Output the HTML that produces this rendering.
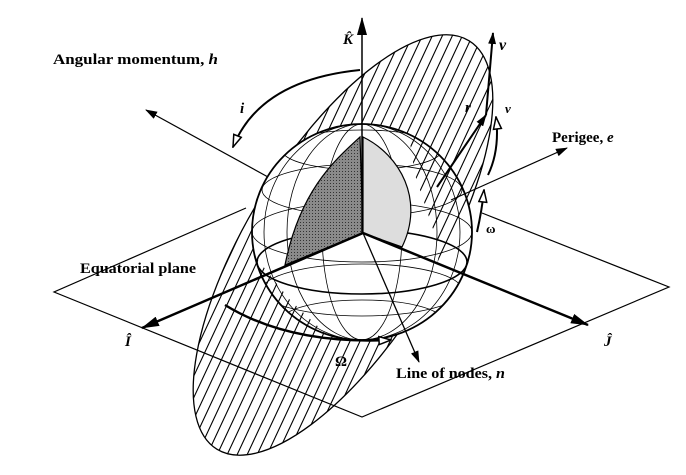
<!DOCTYPE html>
<html><head><meta charset="utf-8"><style>
html,body{margin:0;padding:0;background:#fff;overflow:hidden;}
svg{display:block;}
text{font-family:"Liberation Serif",serif;font-weight:bold;fill:#000;}
</style></head><body>
<svg id="svg" width="686" height="475" viewBox="0 0 686 475">
<defs>
<pattern id="dark" width="3" height="3" patternUnits="userSpaceOnUse"><rect width="3" height="3" fill="#8a8a8a"/><rect width="1" height="1" fill="#333"/></pattern>
<marker id="ah" markerWidth="12" markerHeight="8" refX="11" refY="4" orient="auto" markerUnits="userSpaceOnUse"><path d="M0,0 L12,4 L0,8 Z" fill="#000"/></marker>
<marker id="ahb" markerWidth="18" markerHeight="10" refX="17" refY="5" orient="auto" markerUnits="userSpaceOnUse"><path d="M0,0 L18,5 L0,10 Z" fill="#000"/></marker>
<marker id="oh" markerWidth="14" markerHeight="10" refX="13" refY="5" orient="auto" markerUnits="userSpaceOnUse"><path d="M1,1 L13,5 L1,9 Z" fill="#fff" stroke="#000" stroke-width="1.5"/></marker>
<clipPath id="globeclip"><ellipse cx="362" cy="232" rx="110" ry="108"/></clipPath>
<clipPath id="orbitclip"><ellipse cx="0" cy="0" rx="240" ry="95" transform="translate(343,245) rotate(-58.3)"/></clipPath>
<clipPath id="frontclip">
<polygon points="405,110 480,110 480,345 420,345 440,250 415,175"/>
<polygon points="250,250 262,320 300,345 345,352 290,300"/>
</clipPath>
</defs>

<g>
<g id="hatchBack" clip-path="url(#orbitclip)" stroke="#000" stroke-width="1.1"></g>
<ellipse cx="0" cy="0" rx="240" ry="95" transform="translate(343,245) rotate(-58.3)" fill="none" stroke="#000" stroke-width="1.3"/>
</g>

<g fill="none" stroke="#000" stroke-width="1.2">
<polyline points="246,208 54,292 362,417 669,287 482,213"/>
</g>

<g>
<ellipse cx="362" cy="232" rx="110" ry="108" fill="#fff" stroke="#000" stroke-width="1.8"/>
<g clip-path="url(#globeclip)" fill="none" stroke="#000" stroke-width="0.8">
<ellipse cx="362" cy="150" rx="80" ry="20"/>
<ellipse cx="362" cy="190" rx="100" ry="26"/>
<ellipse cx="362" cy="232" rx="110" ry="30"/>
<ellipse cx="362" cy="290" rx="100" ry="26"/>
<ellipse cx="362" cy="320" rx="80" ry="20"/>
<ellipse cx="362" cy="232" rx="40" ry="108"/>
<ellipse cx="362" cy="232" rx="75" ry="108"/>
<ellipse cx="362" cy="232" rx="98" ry="108"/>
</g>
<ellipse cx="362" cy="262" rx="105" ry="32" fill="none" stroke="#000" stroke-width="1.6" clip-path="url(#globeclip)"/>
<path d="M360,137 C335,160 300,190 285,265 L363,233 Z" fill="url(#dark)" stroke="#000" stroke-width="1.2"/>
<path d="M363,137 C400,155 425,200 402,247 L363,233 Z" fill="#ddd" stroke="#000" stroke-width="1.2"/>
<g clip-path="url(#globeclip)"><g clip-path="url(#orbitclip)"><g id="hatchFront" clip-path="url(#frontclip)" stroke="#000" stroke-width="1.1"></g></g></g>
</g>

<line x1="362" y1="233" x2="362" y2="18" stroke="#000" stroke-width="1.5" marker-end="url(#ahb)"/>
<line x1="268" y1="177" x2="146" y2="110" stroke="#000" stroke-width="1.2" marker-end="url(#ah)"/>
<line x1="363" y1="233" x2="142" y2="328" stroke="#000" stroke-width="2.5" marker-end="url(#ahb)"/>
<line x1="363" y1="233" x2="588" y2="325" stroke="#000" stroke-width="2.5" marker-end="url(#ahb)"/>
<line x1="363" y1="233" x2="419" y2="362" stroke="#000" stroke-width="1.3" marker-end="url(#ah)"/>
<line x1="451" y1="200" x2="567" y2="148" stroke="#000" stroke-width="1.2" marker-end="url(#ah)"/>
<line x1="437" y1="187" x2="486" y2="115" stroke="#000" stroke-width="2" marker-end="url(#ah)"/>
<line x1="486" y1="115" x2="493" y2="33" stroke="#000" stroke-width="2" marker-end="url(#ah)"/>

<path d="M360,70 Q260,80 233,147" fill="none" stroke="#000" stroke-width="2" marker-end="url(#oh)"/>
<path d="M225,305 Q290,345 391,340" fill="none" stroke="#000" stroke-width="2.4" marker-end="url(#oh)"/>
<path d="M488,175 Q500,150 496,117" fill="none" stroke="#000" stroke-width="2" marker-end="url(#oh)"/>
<path d="M477,232 Q482,210 484,190" fill="none" stroke="#000" stroke-width="2" marker-end="url(#oh)"/>

<text x="53" y="64" font-size="15" textLength="165" lengthAdjust="spacingAndGlyphs">Angular momentum, <tspan font-style="italic">h</tspan></text>
<text x="343" y="44" font-size="15" font-style="italic">K̂</text>
<text x="240" y="113" font-size="15" font-style="italic">i</text>
<text x="552" y="142" font-size="15">Perigee, <tspan font-style="italic">e</tspan></text>
<text x="465" y="112" font-size="15" font-style="italic">r</text>
<text x="499" y="50" font-size="16" font-style="italic">v</text>
<text x="505" y="113" font-size="13" font-style="italic">ν</text>
<text x="486" y="233" font-size="13" font-weight="normal">ω</text>
<text x="80" y="273" font-size="15" textLength="116" lengthAdjust="spacingAndGlyphs">Equatorial plane</text>
<text x="125" y="346" font-size="15" font-style="italic">Î</text>
<text x="604" y="346" font-size="15" font-style="italic">Ĵ</text>
<text x="335" y="366" font-size="15" font-weight="normal">Ω</text>
<text x="396" y="378" font-size="15" textLength="109" lengthAdjust="spacingAndGlyphs">Line of nodes, <tspan font-style="italic">n</tspan></text>
</svg>
<script>
(function(){
  var NS='http://www.w3.org/2000/svg';
  var slope=0.466;
  ['hatchBack','hatchFront'].forEach(function(id){
    var g=document.getElementById(id);
    for(var x0=-300;x0<800;x0+=10){
      var l=document.createElementNS(NS,'line');
      l.setAttribute('x1',x0);l.setAttribute('y1',470);
      l.setAttribute('x2',x0+slope*450);l.setAttribute('y2',20);
      
      
      g.appendChild(l);
    }
  });
})();
</script>
</body></html>
